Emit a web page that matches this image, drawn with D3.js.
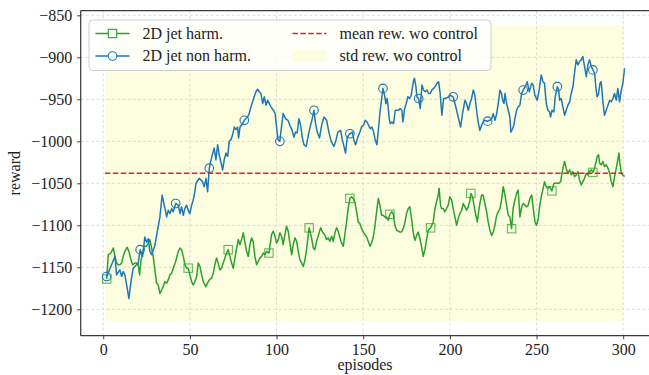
<!DOCTYPE html>
<html><head><meta charset="utf-8">
<script src="https://cdn.jsdelivr.net/npm/d3@7"></script>
<style>body{margin:0;background:#fff}svg{display:block}text{font-family:"Liberation Serif","Times New Roman",serif !important;fill:#222}</style>
</head><body><svg id="c" width="649" height="375"></svg>
<script>
const xTicks=[0,50,100,150,200,250,300];
const yTicks=[-1200,-1150,-1100,-1050,-1000,-950,-900,-850];
const seriesNames=["2D jet harm.","2D jet non harm.","mean rew. wo control","std rew. wo control"];
const meanReward=-1038, stdReward=176.7, bandStart=1, bandEnd=300;
const nonHarm=[[2,-1161],[4.8,-1147],[6.8,-1137],[7.7,-1159],[9.6,-1153],[10.6,-1161],[11.5,-1155],[12.5,-1159],[13.5,-1171],[14.8,-1187],[16,-1167],[17.3,-1151],[19.3,-1147],[20.2,-1145],[21.3,-1129],[22.7,-1137],[24,-1114],[25,-1120],[26,-1116],[26.9,-1131],[27.9,-1135],[29.8,-1124],[30.8,-1112],[32.7,-1090],[34,-1064],[35.6,-1080],[36.6,-1090],[37.5,-1082],[38.5,-1086],[39.5,-1080],[40.4,-1084],[41.8,-1074],[43.3,-1076],[44.3,-1086],[45.2,-1078],[46.2,-1088],[47.1,-1080],[48.1,-1076],[49,-1082],[50,-1086],[51,-1076],[51.9,-1070],[52.9,-1060],[53.5,-1050],[55.4,-1044],[57.3,-1048],[58.3,-1054],[59.3,-1044],[60.2,-1060],[61.2,-1032],[62.7,-1018],[64,-1008],[65,-1022],[66,-1004],[66.9,-1016],[68.9,-1034],[69.8,-1022],[70.8,-1014],[71.8,-1018],[72.7,-1000],[73.7,-998],[74.7,-992],[75.6,-983],[76.6,-986],[77.5,-983],[78.1,-996],[78.9,-983],[80.4,-979],[81.4,-975],[83.3,-971],[84.2,-967],[85.2,-959],[86.2,-953],[87.1,-947],[88.1,-941],[89.1,-938],[90,-941],[91,-943],[92,-955],[92.9,-947],[93.9,-957],[94.8,-951],[95.8,-955],[96.8,-959],[98.1,-963],[99.2,-967],[100,-983],[100.8,-998],[101.9,-1000],[102.3,-992],[103.8,-967],[105.2,-973],[106.6,-975],[107.7,-981],[109,-987],[110,-995],[111,-989],[111.9,-990],[112.9,-973],[113.9,-981],[114.8,-995],[115.8,-1004],[117.1,-1006],[118.7,-989],[120.6,-973],[121.6,-963],[122.5,-979],[123.5,-989],[124.8,-996],[126,-981],[127.3,-971],[128.9,-975],[130.2,-989],[131.5,-1000],[133.1,-1006],[134.1,-1000],[135.4,-989],[137,-987],[137.9,-998],[138.9,-1006],[139.8,-1014],[140.8,-995],[142.3,-991],[143.7,-989],[144.6,-998],[145.6,-1004],[146.9,-995],[148.1,-989],[149.2,-982],[150.2,-981],[151.2,-975],[152.2,-977],[154,-985],[155,-983],[156,-989],[156.9,-998],[157.9,-1004],[158.9,-983],[159.8,-963],[161.4,-937],[162.3,-945],[163.1,-955],[163.7,-949],[164.3,-957],[165,-973],[165.6,-979],[166.6,-977],[167.5,-979],[168.5,-963],[170.4,-963],[171.3,-961],[172.3,-963],[172.9,-977],[173.9,-961],[174.8,-955],[175.8,-947],[176.8,-949],[177.7,-945],[179.1,-927],[179.6,-925],[180.4,-935],[181,-947],[182,-949],[182.9,-961],[183.9,-933],[184.8,-939],[185.8,-941],[186.8,-939],[187.7,-943],[188.7,-943],[189.6,-939],[190.6,-937],[191.5,-935],[192.5,-931],[193.5,-929],[194.4,-943],[195.4,-969],[196.4,-949],[197.3,-949],[199.3,-947],[200.2,-945],[201.9,-947],[202.9,-955],[203.9,-963],[204.8,-971],[206.2,-983],[207.3,-967],[208.7,-951],[209.6,-955],[210.6,-963],[211.6,-955],[212.5,-949],[213.5,-939],[214.4,-945],[215.4,-963],[216.3,-977],[217.3,-987],[218.3,-981],[219.2,-977],[220.2,-975],[221.8,-976],[223.1,-975],[224.1,-973],[225,-967],[226,-975],[227,-967],[227.9,-955],[228.9,-939],[229.8,-943],[230.4,-951],[231.2,-955],[231.8,-943],[232.7,-955],[233.7,-963],[234.6,-971],[235.2,-989],[236.2,-985],[236.9,-981],[237.5,-973],[238.5,-963],[239.4,-959],[240.4,-957],[241.4,-943],[242.3,-939],[243.9,-933],[244.6,-929],[245.8,-941],[247.2,-931],[248.1,-933],[249,-945],[250.4,-951],[251.5,-939],[252.7,-921],[253.7,-929],[254.6,-931],[255.6,-955],[256.6,-963],[257.5,-965],[258.1,-971],[258.9,-963],[260,-965],[260.8,-947],[262,-935],[262.8,-939],[263.3,-951],[264.2,-949],[265.2,-959],[266.2,-969],[267.1,-963],[268.1,-957],[269.1,-953],[270,-943],[271,-935],[271.9,-919],[272.9,-903],[273.9,-909],[274.8,-905],[275.8,-903],[276.7,-899],[277.7,-911],[278.7,-923],[279.6,-909],[280.6,-903],[281.6,-911],[282.5,-915],[283.5,-919],[284.4,-939],[285,-947],[285.8,-943],[286.6,-931],[287.3,-929],[288.3,-953],[289.2,-969],[290.2,-963],[291.2,-957],[292.2,-951],[293.1,-953],[294.1,-949],[295,-943],[296,-951],[296.9,-937],[297.9,-953],[298.9,-939],[299.8,-931],[300.8,-913]];
const harm=[[2,-1164],[2.9,-1135],[4.4,-1133],[5.8,-1127],[6.8,-1137],[7.7,-1145],[8.7,-1147],[9.6,-1147],[10.6,-1145],[11.5,-1137],[12.5,-1131],[13.8,-1126],[14.8,-1131],[16,-1141],[16.9,-1147],[18.3,-1145],[19.3,-1145],[20.2,-1147],[21,-1159],[21.7,-1143],[22.7,-1133],[23.5,-1125],[25,-1125],[26,-1121],[26.9,-1117],[27.9,-1127],[28.8,-1137],[29.8,-1153],[30.8,-1169],[31.7,-1171],[32.7,-1181],[33.7,-1177],[34.6,-1173],[35.6,-1167],[36.6,-1169],[37.5,-1165],[38.5,-1159],[39.5,-1157],[40.4,-1151],[41.8,-1143],[43.3,-1131],[44.3,-1127],[45.2,-1129],[46.2,-1137],[47.1,-1147],[48.1,-1151],[49,-1151],[50,-1159],[51,-1167],[51.9,-1171],[52.9,-1167],[53.9,-1161],[54.8,-1145],[55.8,-1149],[56.8,-1159],[57.7,-1167],[59.2,-1173],[60.6,-1167],[61.6,-1164],[62.5,-1163],[63.5,-1157],[64.4,-1147],[65.4,-1139],[66.3,-1145],[67.3,-1153],[68.3,-1151],[69.2,-1145],[70.2,-1139],[71.2,-1133],[72.1,-1129],[73.1,-1137],[74.1,-1145],[75,-1151],[76,-1139],[77,-1127],[77.9,-1117],[78.9,-1123],[79.8,-1117],[80.8,-1109],[81.8,-1121],[82.7,-1131],[83.7,-1137],[84.6,-1123],[85.6,-1115],[86.5,-1119],[87.5,-1137],[88.5,-1147],[89.4,-1143],[90.4,-1139],[91.4,-1137],[92.3,-1133],[93.3,-1135],[94.3,-1131],[95.6,-1133],[96.6,-1119],[97.1,-1111],[98.1,-1107],[99.1,-1113],[100,-1121],[101,-1117],[101.9,-1109],[102.9,-1113],[103.8,-1123],[104.8,-1111],[105.8,-1101],[106.7,-1107],[107.7,-1121],[108.7,-1135],[109.6,-1123],[110.6,-1115],[111.6,-1119],[112.5,-1131],[113.5,-1141],[114.5,-1145],[115.4,-1149],[116.4,-1141],[117.3,-1129],[118.8,-1103],[120.2,-1115],[121.2,-1127],[122.1,-1129],[123.1,-1119],[124,-1113],[125.4,-1103],[126.6,-1108],[127.9,-1112],[128.9,-1117],[129.8,-1115],[130.8,-1119],[131.8,-1113],[132.7,-1119],[133.7,-1109],[134.6,-1103],[135.6,-1107],[136.6,-1115],[137.5,-1121],[138.5,-1125],[139.4,-1111],[140.4,-1096],[141.3,-1080],[142.3,-1068],[143.3,-1066],[144.2,-1068],[145.2,-1072],[146.2,-1084],[147.1,-1096],[148.1,-1098],[149.1,-1104],[150,-1108],[152,-1114],[152.9,-1119],[153.9,-1125],[154.8,-1121],[155.8,-1114],[156.7,-1102],[157.7,-1084],[158.7,-1068],[159.6,-1076],[160.6,-1088],[161.5,-1088],[162.5,-1090],[163.5,-1090],[164.4,-1094],[165.4,-1087],[166.4,-1084],[167.3,-1086],[168.3,-1100],[169.3,-1106],[171.2,-1108],[172.2,-1108],[173.1,-1104],[174.1,-1096],[175,-1086],[176,-1080],[176.9,-1078],[177.9,-1092],[178.8,-1108],[179.8,-1118],[180.8,-1112],[181.7,-1108],[182.7,-1116],[183.7,-1126],[184.6,-1137],[185.6,-1129],[186.6,-1116],[187.5,-1106],[188.9,-1103],[190.4,-1096],[191.4,-1080],[192.3,-1072],[193.3,-1064],[193.8,-1056],[194.6,-1076],[195.2,-1080],[196.2,-1080],[197.1,-1084],[198.1,-1080],[199,-1076],[200,-1066],[201,-1070],[201.9,-1080],[202.9,-1090],[203.9,-1100],[204.8,-1092],[205.8,-1086],[206.8,-1082],[207.7,-1074],[208.7,-1078],[209.7,-1082],[210.6,-1078],[211.6,-1070],[212.1,-1062],[213.1,-1066],[213.9,-1076],[214.8,-1086],[215.8,-1096],[216.6,-1084],[217.3,-1074],[218.3,-1064],[219.2,-1064],[220.2,-1074],[221.2,-1084],[222.1,-1096],[223.1,-1106],[224.1,-1112],[225,-1108],[226,-1100],[227,-1088],[227.9,-1084],[228.9,-1080],[229.8,-1070],[230.8,-1054],[231.8,-1064],[232.7,-1076],[233.7,-1088],[234.6,-1090],[235.6,-1104],[236.5,-1080],[237.5,-1070],[238.5,-1062],[239.4,-1058],[240.4,-1090],[241.4,-1078],[242.3,-1074],[243.3,-1076],[244.3,-1078],[245.2,-1076],[246.2,-1068],[247.2,-1064],[248.1,-1080],[249.1,-1096],[250,-1100],[251,-1092],[251.9,-1076],[252.9,-1064],[253.8,-1056],[254.6,-1048],[255.6,-1054],[256.6,-1056],[257.5,-1054],[258.9,-1059],[260,-1050],[261.3,-1050],[262.7,-1050],[263.9,-1048],[265.2,-1032],[266.2,-1024],[267.1,-1032],[268.1,-1038],[269.1,-1034],[270,-1040],[271,-1036],[271.9,-1042],[272.9,-1040],[273.9,-1036],[274.8,-1046],[275.8,-1052],[276.7,-1048],[277.7,-1044],[278.7,-1038],[279.6,-1040],[280.6,-1036],[281.6,-1034],[282.5,-1037],[283.5,-1032],[284.4,-1024],[285,-1018],[285.8,-1016],[286.4,-1026],[287.3,-1028],[288.3,-1024],[289.2,-1030],[290.2,-1028],[291.2,-1032],[292.2,-1038],[293.1,-1048],[294.1,-1054],[295,-1042],[296,-1032],[296.9,-1022],[297.5,-1014],[298.1,-1026],[298.9,-1038],[299.8,-1040],[300.8,-1042]];
const nonHarmMarkerEp=[2,21.3,41.8,61.2,81.4,101.9,121.6,142.3,161.4,182,201.9,221.8,242.3,262,282.5];
const harmMarkerEp=[2,49,72.1,95.6,118.8,142.3,165.4,188.9,212.1,235.6,258.9,282.5];

const GREEN="#2ca02c",BLUE="#1f77b4",RED="#d62728",BAND="#fdfde0",SPINE="#3a3a3a",GRID="#d4d4d4";
const FONT='"Liberation Serif","Times New Roman",serif';
const L=80.7,R=649.2,T=10.7,B=335.7;
const svg=d3.select("#c");
const x=d3.scaleLinear().domain([-13,315]).range([L,R]);
const y=d3.scaleLinear().domain([-1231.4,-844.5]).range([B,T]);

svg.append("rect").attr("x",x(bandStart)).attr("width",x(bandEnd)-x(bandStart))
  .attr("y",y(meanReward+stdReward)).attr("height",y(meanReward-stdReward)-y(meanReward+stdReward))
  .attr("fill",BAND);

const g=svg.append("g");
g.selectAll(".gx").data(xTicks).join("line").attr("x1",d=>x(d)).attr("x2",d=>x(d)).attr("y1",T).attr("y2",B)
  .attr("stroke",GRID).attr("stroke-width",0.8).attr("stroke-dasharray","3,2.2");
g.selectAll(".gy").data(yTicks).join("line").attr("y1",d=>y(d)).attr("y2",d=>y(d)).attr("x1",L).attr("x2",R)
  .attr("stroke",GRID).attr("stroke-width",0.8).attr("stroke-dasharray","3,2.2");

const line=d3.line().x(d=>x(d[0])).y(d=>y(d[1]));
function nearest(arr,ep){let b=arr[0];for(const p of arr){if(Math.abs(p[0]-ep)<Math.abs(b[0]-ep))b=p;}return b;}

svg.append("path").datum(harm).attr("d",line).attr("fill","none").attr("stroke",GREEN).attr("stroke-width",1.5).attr("stroke-linejoin","round");
svg.append("g").selectAll("rect").data(harmMarkerEp.map(e=>nearest(harm,e))).join("rect")
  .attr("x",d=>x(d[0])-4.2).attr("y",d=>y(d[1])-4.2).attr("width",8.4).attr("height",8.4)
  .attr("fill","none").attr("stroke",GREEN).attr("stroke-opacity",0.75).attr("stroke-width",1.1);

svg.append("path").datum(nonHarm).attr("d",line).attr("fill","none").attr("stroke",BLUE).attr("stroke-width",1.5).attr("stroke-linejoin","round");
svg.append("g").selectAll("circle").data(nonHarmMarkerEp.map(e=>nearest(nonHarm,e))).join("circle")
  .attr("cx",d=>x(d[0])).attr("cy",d=>y(d[1])).attr("r",4.3)
  .attr("fill","none").attr("stroke",BLUE).attr("stroke-width",1.1);

svg.append("line").attr("x1",x(bandStart)).attr("x2",x(bandEnd)).attr("y1",y(meanReward)).attr("y2",y(meanReward))
  .attr("stroke",RED).attr("stroke-width",1.5).attr("stroke-dasharray","5.5,2.4");

svg.append("line").attr("x1",L).attr("x2",R).attr("y1",T).attr("y2",T).attr("stroke",SPINE).attr("stroke-width",1.25);
svg.append("line").attr("x1",L).attr("x2",L).attr("y1",T).attr("y2",B).attr("stroke",SPINE).attr("stroke-width",1.25);
svg.append("line").attr("x1",L).attr("x2",R).attr("y1",B).attr("y2",B).attr("stroke",SPINE).attr("stroke-width",1.25);

const xa=svg.append("g").attr("transform",`translate(0,${B})`).call(d3.axisBottom(x).tickValues(xTicks).tickSize(3.5).tickPadding(4).tickFormat(d3.format("d")));
const ya=svg.append("g").attr("transform",`translate(${L},0)`).call(d3.axisLeft(y).tickValues(yTicks).tickSize(3.5).tickPadding(5).tickFormat(d=>"\u2212"+Math.abs(d)));
[xa,ya].forEach(a=>{a.attr("font-family",null);a.select(".domain").remove();a.selectAll(".tick line").attr("stroke",SPINE);
  a.selectAll("text").style("font-family",FONT).attr("font-size",16).attr("fill","#222");});

svg.append("text").style("font-family",FONT).attr("x",(L+R)/2).attr("y",370).attr("text-anchor","middle").attr("font-size",16).text("episodes");
svg.append("text").style("font-family",FONT).attr("transform",`translate(20,${(T+B)/2}) rotate(-90)`).attr("text-anchor","middle").attr("font-size",16).text("reward");

const lg=svg.append("g");
lg.append("rect").attr("x",89).attr("y",20).attr("width",402).attr("height",50.5).attr("rx",3.5)
  .attr("fill","#fff").attr("fill-opacity",0.8).attr("stroke","#cfcfcf").attr("stroke-width",1);
const items=[
 {name:seriesNames[0],cx:95.5,cy:33.5,kind:"sq",c:GREEN},
 {name:seriesNames[1],cx:95.5,cy:56,kind:"ci",c:BLUE},
 {name:seriesNames[2],cx:292.5,cy:33.5,kind:"dash",c:RED},
 {name:seriesNames[3],cx:292.5,cy:56,kind:"band",c:BAND}];
items.forEach(it=>{
  const hx=it.cx, hw=34, mx=hx+hw/2;
  if(it.kind==="sq"||it.kind==="ci"){
    lg.append("line").attr("x1",hx).attr("x2",hx+hw).attr("y1",it.cy).attr("y2",it.cy).attr("stroke",it.c).attr("stroke-width",1.5);
    if(it.kind==="sq") lg.append("rect").attr("x",mx-4.2).attr("y",it.cy-4.2).attr("width",8.4).attr("height",8.4).attr("fill","#fff").attr("stroke",it.c).attr("stroke-width",1.1);
    else lg.append("circle").attr("cx",mx).attr("cy",it.cy).attr("r",4.3).attr("fill","#fff").attr("stroke",it.c).attr("stroke-width",1.1);
  } else if(it.kind==="dash"){
    lg.append("line").attr("x1",hx).attr("x2",hx+hw).attr("y1",it.cy).attr("y2",it.cy).attr("stroke",it.c).attr("stroke-width",1.5).attr("stroke-dasharray","5.5,2.4");
  } else {
    lg.append("rect").attr("x",hx).attr("y",it.cy-6).attr("width",hw).attr("height",12).attr("fill",it.c);
  }
  lg.append("text").style("font-family",FONT).attr("x",hx+47).attr("y",it.cy+5.3).attr("font-size",16).text(it.name);
});
</script></body></html>
